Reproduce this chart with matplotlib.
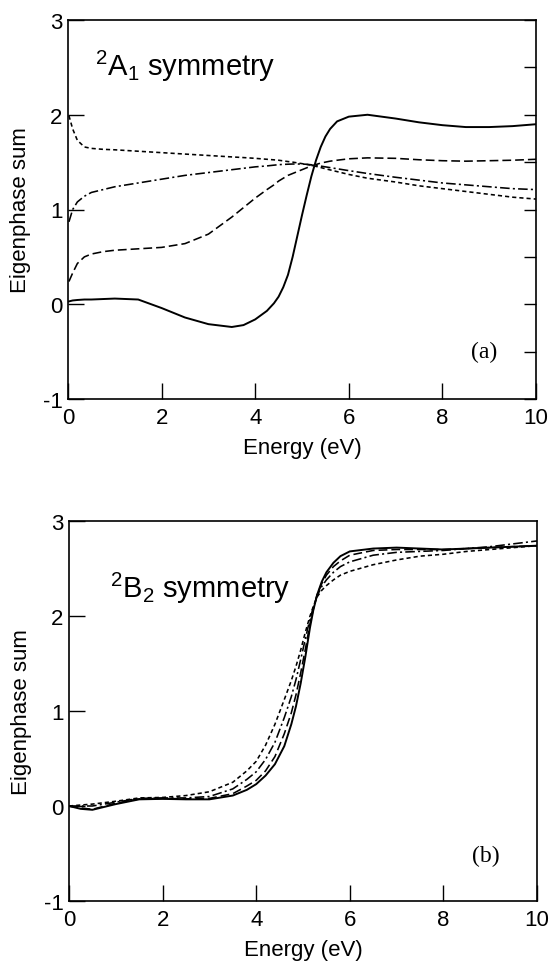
import matplotlib
matplotlib.use("Agg")
import matplotlib.pyplot as plt
from matplotlib.ticker import MultipleLocator

plt.rcParams['font.family'] = ['Liberation Sans', 'DejaVu Sans']
plt.rcParams['mathtext.default'] = 'regular'
plt.rcParams['axes.unicode_minus'] = False

# ---------------- data: panel (a), 2A1 symmetry ----------------
energy_a = [0.02, 0.1, 0.2, 0.35, 0.5, 0.75, 1.0, 1.5, 2.0, 2.5, 3.0, 3.5, 3.75, 4.0,
            4.25, 4.4, 4.5, 4.6, 4.7, 4.8, 4.9, 5.0, 5.1, 5.2, 5.3, 5.4, 5.5, 5.6, 5.75,
            6.0, 6.4, 7.0, 7.5, 8.0, 8.5, 9.0, 9.5, 10.0]
a_solid = [0.03, 0.04, 0.045, 0.05, 0.05, 0.055, 0.06, 0.05, -0.04, -0.14, -0.21, -0.24,
           -0.22, -0.16, -0.07, 0.01, 0.08, 0.18, 0.31, 0.50, 0.72, 0.94, 1.15, 1.35, 1.52,
           1.66, 1.77, 1.85, 1.93, 1.98, 2.00, 1.96, 1.92, 1.89, 1.87, 1.87, 1.88, 1.90]
a_short = [1.99, 1.85, 1.73, 1.66, 1.645, 1.635, 1.63, 1.615, 1.60, 1.585, 1.57, 1.555,
           1.548, 1.54, 1.53, 1.524, 1.52, 1.513, 1.506, 1.50, 1.492, 1.484, 1.476, 1.467,
           1.455, 1.443, 1.43, 1.418, 1.40, 1.37, 1.33, 1.29, 1.25, 1.22, 1.19, 1.16, 1.13,
           1.11]
a_dashdot = [0.87, 1.00, 1.08, 1.14, 1.18, 1.21, 1.24, 1.28, 1.32, 1.36, 1.39, 1.42, 1.435,
             1.45, 1.46, 1.468, 1.473, 1.476, 1.478, 1.48, 1.48, 1.48, 1.477, 1.472, 1.466,
             1.458, 1.45, 1.442, 1.43, 1.41, 1.38, 1.34, 1.31, 1.28, 1.26, 1.24, 1.22, 1.21]
a_long = [0.24, 0.33, 0.43, 0.50, 0.53, 0.555, 0.57, 0.585, 0.60, 0.64, 0.74, 0.92, 1.02,
          1.12, 1.21, 1.26, 1.30, 1.33, 1.36, 1.38, 1.40, 1.42, 1.44, 1.46, 1.475, 1.49,
          1.50, 1.51, 1.52, 1.535, 1.545, 1.54, 1.525, 1.515, 1.51, 1.515, 1.52, 1.53]

# ---------------- data: panel (b), 2B2 symmetry ----------------
energy_b = [0.0, 0.25, 0.5, 1.0, 1.5, 2.0, 2.5, 3.0, 3.5, 3.8, 4.0, 4.2, 4.4, 4.6, 4.75,
            4.85, 4.95, 5.05, 5.15, 5.22, 5.3, 5.4, 5.5, 5.65, 5.8, 6.0, 6.5, 7.0, 7.5,
            8.0, 8.5, 9.0, 9.5, 10.0]
b_solid = [0.0, -0.03, -0.04, 0.02, 0.07, 0.075, 0.07, 0.07, 0.11, 0.17, 0.23, 0.32, 0.44,
           0.63, 0.86, 1.05, 1.29, 1.57, 1.88, 2.06, 2.22, 2.36, 2.46, 2.56, 2.63, 2.68,
           2.71, 2.72, 2.71, 2.70, 2.71, 2.72, 2.73, 2.74]
b_long = [0.0, -0.02, -0.035, 0.03, 0.075, 0.08, 0.075, 0.08, 0.13, 0.21, 0.27, 0.37, 0.52,
          0.76, 0.98, 1.17, 1.40, 1.65, 1.92, 2.07, 2.22, 2.34, 2.43, 2.52, 2.58, 2.64,
          2.69, 2.70, 2.70, 2.70, 2.71, 2.72, 2.73, 2.74]
b_dashdot = [0.0, 0.0, 0.0, 0.04, 0.08, 0.085, 0.085, 0.10, 0.18, 0.28, 0.36, 0.49, 0.67,
             0.93, 1.15, 1.33, 1.54, 1.76, 1.97, 2.09, 2.21, 2.31, 2.38, 2.46, 2.52, 2.57,
             2.64, 2.67, 2.68, 2.69, 2.71, 2.73, 2.76, 2.79]
b_short = [0.0, 0.01, 0.02, 0.05, 0.085, 0.09, 0.11, 0.15, 0.25, 0.37, 0.47, 0.64, 0.86,
           1.12, 1.32, 1.47, 1.64, 1.83, 2.00, 2.10, 2.20, 2.27, 2.32, 2.38, 2.43, 2.47,
           2.54, 2.59, 2.63, 2.65, 2.68, 2.70, 2.72, 2.74]

x_ticks = [0, 2, 4, 6, 8, 10]
y_ticks = [-1, 0, 1, 2, 3]
x_label = "Energy (eV)"
y_label = "Eigenphase sum"

SOLID = dict(color='black', lw=1.4, linestyle='-')
LONG = dict(color='black', lw=1.15, linestyle=(0, (5.5, 2.5)))
SHORT = dict(color='black', lw=1.15, linestyle=(0, (2.6, 1.9)))
DASHDOT = dict(color='black', lw=1.15, linestyle=(0, (6, 2, 1.3, 2)))

fig = plt.figure(figsize=(5.52, 9.62), dpi=100)
ax1 = fig.add_axes([68 / 552, 1 - 400 / 962, 468 / 552, 379 / 962])
ax2 = fig.add_axes([69 / 552, 1 - 902 / 962, 468 / 552, 380 / 962])


def style(ax, right_minor):
    ax.set_xlim(0, 10)
    ax.set_ylim(-1, 3)
    ax.set_xticks(x_ticks)
    ax.set_yticks(y_ticks)
    ax.tick_params(which='major', direction='in', length=11.5, width=1.0,
                   labelsize=16, pad=4, top=False, right=False)
    ax.tick_params(axis='x', which='major', pad=6)
    for s in ax.spines.values():
        s.set_linewidth(1.2)
    if right_minor:
        ax.yaxis.set_minor_locator(MultipleLocator(0.5))
        ax.yaxis.remove_overlapping_locs = False
        ax.tick_params(which='minor', direction='in', length=8.5, width=1.0,
                       left=False, right=True)
    ax.set_xlabel(x_label, fontsize=16, labelpad=6)
    ax.set_ylabel(y_label, fontsize=16)
    ax.yaxis.set_label_coords(-0.078, 0.5)


ax1.plot(energy_a, a_solid, **SOLID)
ax1.plot(energy_a, a_long, **LONG)
ax1.plot(energy_a, a_short, **SHORT)
ax1.plot(energy_a, a_dashdot, **DASHDOT)
style(ax1, True)
ax1.text(0.58, 2.42, r'$^{2}$A$_{1}$ symmetry', fontsize=21, ha='left', va='baseline')
ax1.text(8.9, -0.5, '(a)', fontsize=17, family='Liberation Serif', ha='center', va='center')

ax2.plot(energy_b, b_solid, **SOLID)
ax2.plot(energy_b, b_long, **LONG)
ax2.plot(energy_b, b_dashdot, **DASHDOT)
ax2.plot(energy_b, b_short, **SHORT)
style(ax2, False)
ax2.text(0.88, 2.2, r'$^{2}$B$_{2}$ symmetry', fontsize=21, ha='left', va='baseline')
ax2.text(8.9, -0.52, '(b)', fontsize=17, family='Liberation Serif', ha='center', va='center')

fig.savefig('out.png', dpi=100)
